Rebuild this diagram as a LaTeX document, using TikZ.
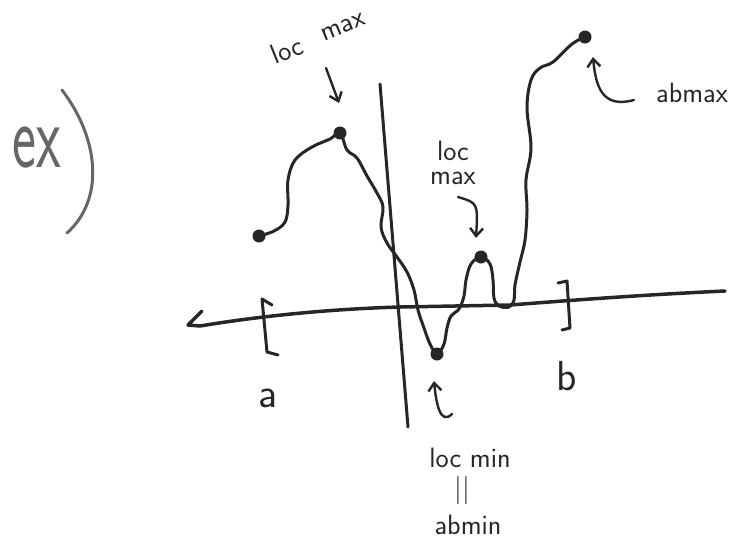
\documentclass[tikz,border=0pt]{standalone}
\usetikzlibrary{arrows.meta}
\begin{document}
\begin{tikzpicture}[x=1pt,y=-1pt,
  ink/.style={draw=black!85,line width=3pt,line cap=round,line join=round},
  dot/.style={circle,fill=black!85,inner sep=0pt,minimum size=13pt},
  lbl/.style={font=\sffamily\fontsize{28}{24}\selectfont,text=black!85,align=center,inner sep=0pt},
  big/.style={font=\sffamily\fontsize{42}{42}\selectfont,text=black!85,inner sep=0pt},
  arr/.style={draw=black!85,line width=2.4pt,line cap=round,-{Straight Barb[length=8pt,width=13pt]}}]
\useasboundingbox (0,0) rectangle (744,550);
% heading
\node[font=\sffamily\fontsize{92}{92}\selectfont,text=black!60,inner sep=0pt] (ex) at (37,148) {\scalebox{0.62}[1]{ex}};
\draw[draw=black!60,line width=3pt,line cap=round] (62,90) .. controls (100,140) and (104,200) .. (67,233);
% axes
\draw[ink,line width=3.5pt] (202,311) -- (188,325) -- (200,326) .. controls (260,316) and (330,309) .. (400,307) -- (510,305) .. controls (600,298) and (660,294) .. (725,291);
\draw[ink] (380,84) -- (408,427);
% interval ends
\draw[ink] (272,305) -- (262,299) -- (267,352) -- (278,355);
\draw[ink] (558,283) -- (567,281) -- (570,328) -- (562,330);
\node[big] (a) at (268,398) {a};
\node[big] (b) at (567,376) {b};
% the curve
\coordinate (p0) at (259,236);
\coordinate (p1) at (340,133);
\coordinate (p2) at (437,354);
\coordinate (p3) at (481,257);
\coordinate (p4) at (585,37);
\draw[ink] plot[smooth,tension=0.6] coordinates {(259,236) (274,231) (285,222) (288,205) (288,180) (295,160) (312,147) (330,139) (340,133)
  (347,150) (357,158) (367,176) (377,193) (383,207) (381,227) (387,243) (397,257) (407,272) (414,290) (418,310) (424,328) (430,344) (437,354)
  (444,344) (447,328) (451,316) (459,309) (464,296) (466,280) (471,264) (481,257)
  (490,264) (493,280) (494,298) (499,306) (509,307) (514,300) (515,285) (520,262) (525,240) (527,210) (526,180) (531,148) (527,108) (531,80) (540,68) (553,62) (572,44) (585,37)};
\foreach \p in {p0,p1,p2,p3,p4} \node[dot] at (\p) {};
% labels and arrows
\node[lbl,rotate=22] (lmA1) at (287,50) {loc};
\node[lbl,rotate=22] (lmA2) at (343,27) {max};
\coordinate (tA) at (326,68);
\coordinate (hA) at (339,103);
\draw[arr] (tA) -- (hA);
\node[lbl] (lmB) at (453,163) {loc\\max};
\coordinate (tB) at (458,197);
\coordinate (hB) at (476,238);
\draw[arr] (tB) .. controls (478,203) .. (hB);
\node[lbl] (amx) at (692,93) {abmax};
\coordinate (tC) at (634,100);
\coordinate (hC) at (593,57);
\draw[arr] (tC) .. controls (604,108) and (596,90) .. (hC);
\node[lbl] (lmn) at (470,458) {loc min};
\node[lbl] (eq) at (462,490) {||};
\node[lbl] (amn) at (468,525) {abmin};
\coordinate (tD) at (452,414);
\coordinate (hD) at (434,381);
\draw[arr] (tD) .. controls (440,426) and (436,402) .. (hD);
\end{tikzpicture}
\end{document}
